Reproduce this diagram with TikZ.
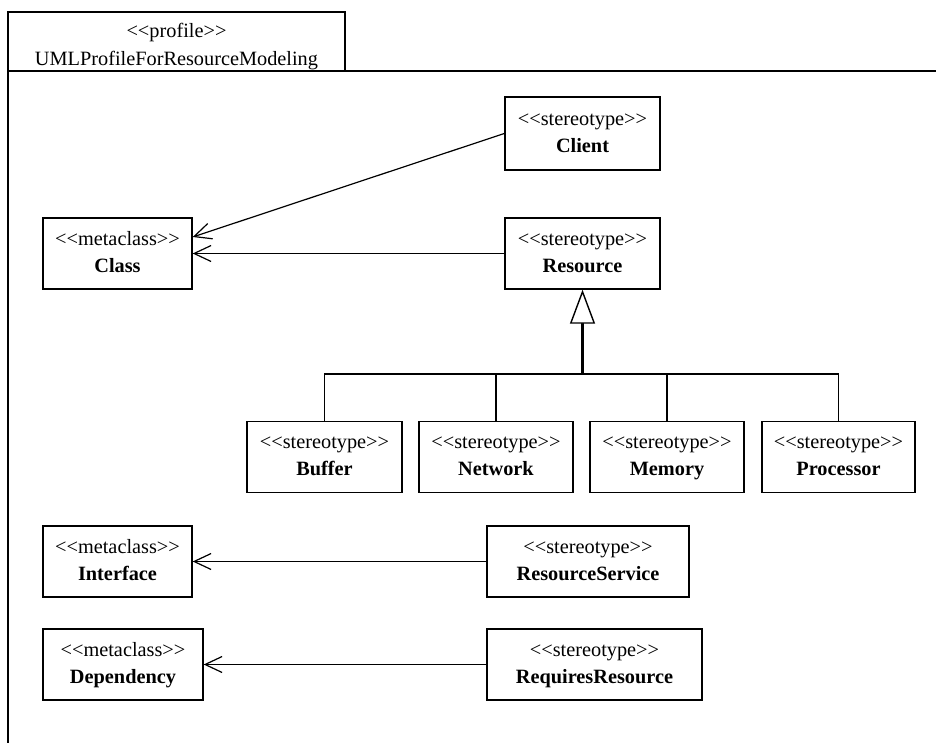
\documentclass[tikz,border=0pt]{standalone}
\usepackage{fontspec}
\setmainfont{Liberation Serif}
\usetikzlibrary{arrows.meta}
\newcommand{\stlines}[2]{\strut<{}<#1>{}>\\\strut\textbf{#2}}
\tikzset{
  umlbox/.style={draw, line width=1.4pt, inner sep=0pt, align=center,
    minimum height=71pt, font=\fontsize{20.3}{27}\selectfont},
  assoc/.style={line width=1.2pt, -{Straight Barb[length=17pt,width=16pt,line width=1.2pt]}},
  genline/.style={line width=1.2pt},
  genmain/.style={line width=2.4pt, -{Triangle[open,length=34pt,width=25pt,line width=1.4pt,fill=white]}},
  framebox/.style={line width=1.4pt}
}
\begin{document}
\begin{tikzpicture}[x=1pt,y=-1pt]
\useasboundingbox (0,0) rectangle (936,743);
% package frame
\draw[framebox] (8,743) -- (8,12) -- (345,12) -- (345,71);
\draw[framebox] (8,71) -- (936,71);
\node[font=\fontsize{20.3}{28}\selectfont, align=center, inner sep=0pt] (title) at (176.5,46) {\strut<{}<profile>{}>\\\strut UMLProfileForResourceModeling};
% boxes
\node[umlbox, minimum width=149pt] (class) at (117.5,253.5) {\stlines{metaclass}{Class}};
\node[umlbox, minimum width=155pt, minimum height=73pt] (client) at (582.5,133.5) {\stlines{stereotype}{Client}};
\node[umlbox, minimum width=155pt] (resource) at (582.5,253.5) {\stlines{stereotype}{Resource}};
\node[umlbox, minimum width=155pt] (buffer) at (324.5,457) {\stlines{stereotype}{Buffer}};
\node[umlbox, minimum width=154pt] (network) at (496,457) {\stlines{stereotype}{Network}};
\node[umlbox, minimum width=154pt] (memory) at (667,457) {\stlines{stereotype}{Memory}};
\node[umlbox, minimum width=153pt] (processor) at (838.5,457) {\stlines{stereotype}{Processor}};
\node[umlbox, minimum width=149pt] (interface) at (117.5,561.5) {\stlines{metaclass}{Interface}};
\node[umlbox, minimum width=202pt] (rservice) at (588,561.5) {\stlines{stereotype}{ResourceService}};
\node[umlbox, minimum width=160pt] (dependency) at (123,664.5) {\stlines{metaclass}{Dependency}};
\node[umlbox, minimum width=215pt] (requires) at (594.5,664.5) {\stlines{stereotype}{RequiresResource}};
% extensions
\draw[assoc] (client.west) -- ([yshift=16.5pt]class.east);
\draw[assoc] (resource.west) -- (class.east);
\draw[assoc] (rservice.west) -- (interface.east);
\draw[assoc] (requires.west) -- (dependency.east);
% generalization
\coordinate (bar) at (582.5,374);
\draw[genmain] (bar) -- (resource.south);
\draw[genline] (buffer.north) |- (bar);
\draw[genline] (network.north) |- (bar);
\draw[genline] (memory.north) |- (bar);
\draw[genline] (processor.north) |- (bar);
\end{tikzpicture}
\end{document}
